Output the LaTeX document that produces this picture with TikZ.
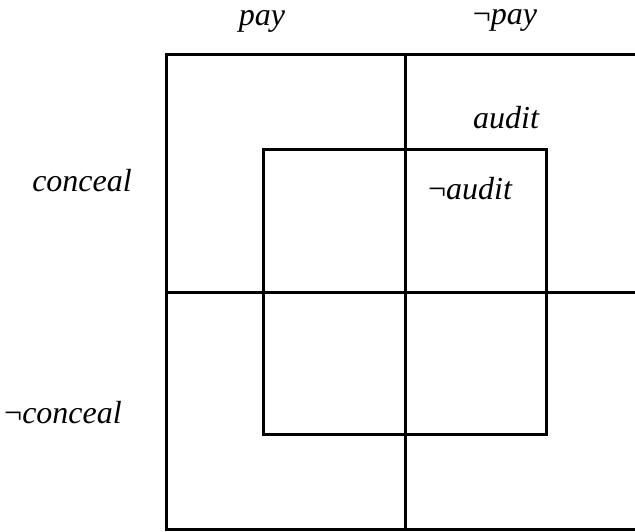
\documentclass[tikz,border=0pt]{standalone}
\usepackage{fontspec}
\setmainfont{Liberation Serif}
\begin{document}
\begin{tikzpicture}[x=1pt,y=-1pt,
  grid/.style={line width=3pt,line cap=rect},
  lab/.style={font=\fontsize{32}{36}\selectfont\itshape,inner sep=0pt}]
\useasboundingbox (0,0) rectangle (635,532);
% outer square
\coordinate (otl) at (166,55);
\coordinate (obr) at (644,529);
\coordinate (mt) at (405,55);
\coordinate (mb) at (405,529);
\coordinate (ml) at (166,292);
\coordinate (mr) at (644,292);
\draw[grid] (otl) rectangle (obr);
\draw[grid] (mt) -- (mb);
\draw[grid] (ml) -- (mr);
% inner square
\coordinate (itl) at (263,150);
\coordinate (ibr) at (546,434);
\draw[grid] (itl) rectangle (ibr);
% labels
\node[lab] (pay) at (262,21) {pay};
\node[lab] (npay) at (505,20) {{\upshape ¬}pay};
\node[lab] (audit) at (506,118) {audit};
\node[lab] (naudit) at (470,189) {{\upshape ¬}audit};
\node[lab] (conceal) at (82,181) {conceal};
\node[lab] (nconceal) at (63,413) {{\upshape ¬}conceal};
\end{tikzpicture}
\end{document}
